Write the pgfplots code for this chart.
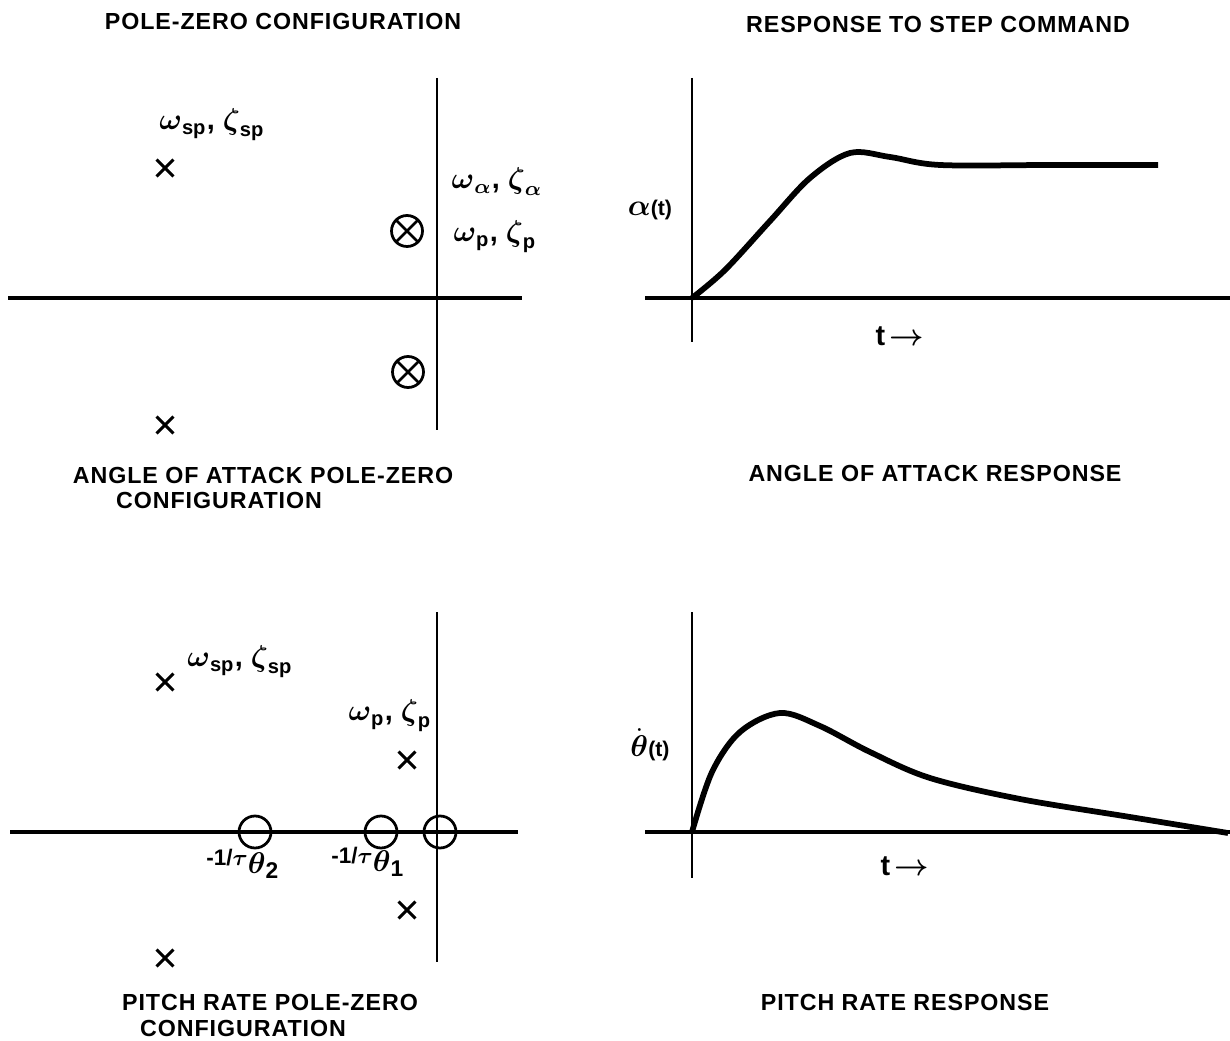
\documentclass[border=0pt]{standalone}
\usepackage{fontspec}
\setmainfont{Liberation Sans}
\usepackage{amsmath,amssymb}
\usepackage{pgfplots}
\pgfplotsset{compat=1.18}
\newcommand\ttl{\bfseries\fontsize{9.3}{11}\selectfont\addfontfeature{LetterSpace=4}}
\newcommand\gk{\bfseries\fontsize{11.5}{13}\selectfont}
\newcommand\tz[1]{\raisebox{3pt}{\bfseries\fontsize{9}{10}\selectfont -1/$\boldsymbol{\tau}$}{\fontsize{13}{15}\selectfont$\boldsymbol{\theta}_{\mathbf{#1}}$}}
\begin{document}
\begin{tikzpicture}
\useasboundingbox (0,0) rectangle (492pt,416.4pt);
\begin{axis}[
  scale only axis, width=492pt, height=416.4pt,
  xmin=0, xmax=1230, ymin=0, ymax=1041, y dir=reverse,
  axis lines=none, clip=false]
% ---------- top-left: angle of attack pole-zero ----------
\addplot[black, line width=1.3pt] coordinates {(8,298) (522,298)};
\addplot[black, line width=1pt] coordinates {(437,78) (437,430)};
\addplot[only marks, mark=x, mark size=4.8pt, line width=1.2pt, black] coordinates {(165,168) (165,425)};
\addplot[only marks, mark=otimes, mark size=6.2pt, line width=1.1pt, black] coordinates {(407,231) (408,372)};
\node[font=\gk] at (axis cs:212,125) {$\boldsymbol{\omega}_{\text{sp}}$, $\boldsymbol{\zeta}_{\text{sp}}$};
\node[font=\gk] at (axis cs:497,182) {$\boldsymbol{\omega}_{\boldsymbol{\alpha}}$, $\boldsymbol{\zeta}_{\boldsymbol{\alpha}}$};
\node[font=\gk] at (axis cs:495,237) {$\boldsymbol{\omega}_{\text{p}}$, $\boldsymbol{\zeta}_{\text{p}}$};
\node[font=\ttl] at (axis cs:283,22) {POLE-ZERO CONFIGURATION};
\node[font=\ttl] at (axis cs:263,475) {ANGLE OF ATTACK POLE-ZERO};
\node[font=\ttl] at (axis cs:219,500) {CONFIGURATION};
% ---------- top-right: angle of attack response ----------
\addplot[black, line width=1pt] coordinates {(692,78) (692,342)};
\addplot[black, line width=1.3pt] coordinates {(645,298) (1230,298)};
\addplot[black, line width=2.3pt, smooth, tension=0.55] coordinates {
  (692,298) (725,270) (770,221) (810,178) (850,153) (890,157)
  (940,165) (1050,165) (1158,165)};
\node[font=\gk] at (axis cs:650,210) {$\boldsymbol{\alpha}$\fontsize{8.5}{9}\selectfont(t)};
\node[font=\gk] at (axis cs:900,336) {t\,$\boldsymbol{\rightarrow}$};
\node[font=\ttl] at (axis cs:938,25) {RESPONSE TO STEP COMMAND};
\node[font=\ttl] at (axis cs:935,473) {ANGLE OF ATTACK RESPONSE};
% ---------- bottom-left: pitch rate pole-zero ----------
\addplot[black, line width=1.3pt] coordinates {(10,832) (518,832)};
\addplot[black, line width=1pt] coordinates {(437,612) (437,962)};
\addplot[only marks, mark=x, mark size=4.8pt, line width=1.2pt, black] coordinates {(165,682) (165,958) (407,760) (407,910)};
\addplot[only marks, mark=o, mark size=6.4pt, line width=1.1pt, black] coordinates {(255,832) (381,832) (440,832)};
\node[font=\gk] at (axis cs:240,662) {$\boldsymbol{\omega}_{\text{sp}}$, $\boldsymbol{\zeta}_{\text{sp}}$};
\node[font=\gk] at (axis cs:390,716) {$\boldsymbol{\omega}_{\text{p}}$, $\boldsymbol{\zeta}_{\text{p}}$};
\node at (axis cs:243,864) {\tz{2}};
\node at (axis cs:368,862) {\tz{1}};
\node[font=\ttl] at (axis cs:270,1002) {PITCH RATE POLE-ZERO};
\node[font=\ttl] at (axis cs:243,1028) {CONFIGURATION};
% ---------- bottom-right: pitch rate response ----------
\addplot[black, line width=1pt] coordinates {(692,612) (692,878)};
\addplot[black, line width=1.3pt] coordinates {(645,832) (1230,832)};
\addplot[black, line width=2.3pt, smooth, tension=0.55] coordinates {
  (692,832) (712,772) (740,732) (780,713) (820,726) (870,752) (930,778)
  (1020,799) (1130,817) (1228,833)};
\node[font=\gk] at (axis cs:650,745) {$\dot{\boldsymbol{\theta}}$\fontsize{8.5}{9}\selectfont(t)};
\node[font=\gk] at (axis cs:905,866) {t\,$\boldsymbol{\rightarrow}$};
\node[font=\ttl] at (axis cs:905,1002) {PITCH RATE RESPONSE};
\end{axis}
\end{tikzpicture}
\end{document}
